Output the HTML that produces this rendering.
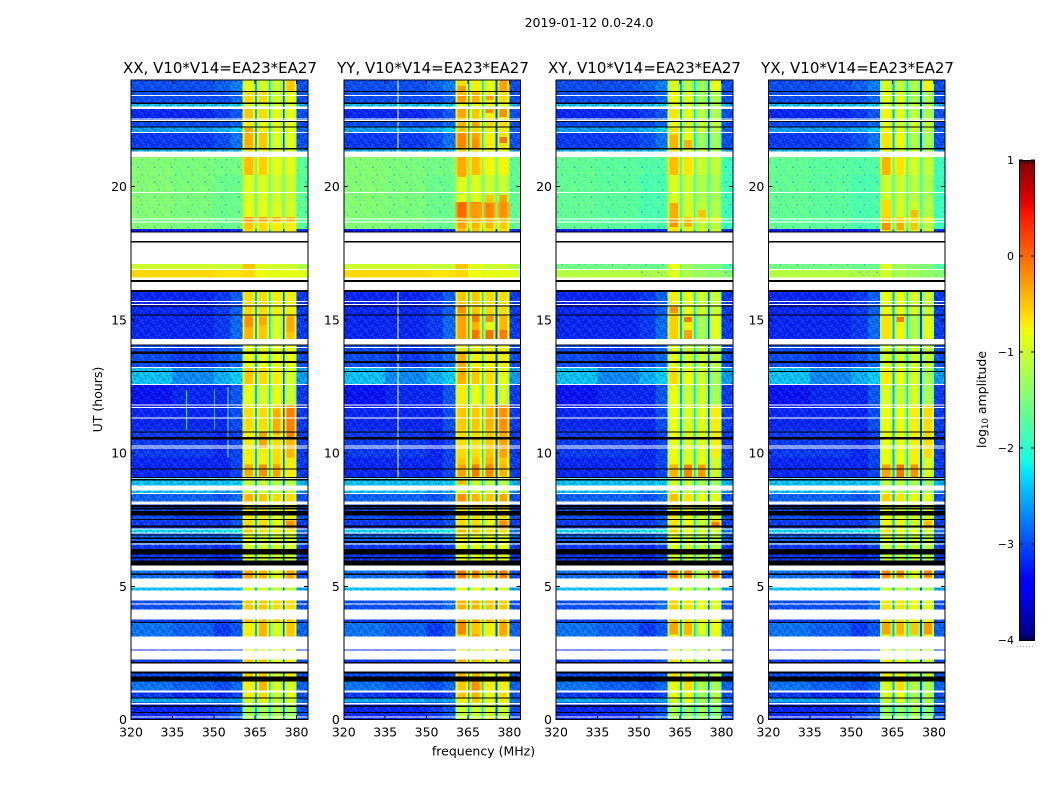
<!DOCTYPE html>
<html>
<head>
<meta charset="utf-8">
<title>2019-01-12 amplitude waterfall</title>
<style>
html,body{margin:0;padding:0;background:#fff;width:1050px;height:800px;overflow:hidden}
svg{display:block}
text{font-family:"DejaVu Sans","Liberation Sans",sans-serif;fill:#000}
</style>
</head>
<body>
<svg id="chart" xmlns="http://www.w3.org/2000/svg" width="1050" height="800" viewBox="0 0 1050 800">
  <defs>
    <pattern id="speckle" patternUnits="userSpaceOnUse" width="11.2" height="9">
      <rect x="0" y="0" width="1.4" height="1.5" fill="#000" opacity=".38"/>
      <rect x="2.8" y="0" width="1.4" height="1.5" fill="#fff" opacity=".14"/>
      <rect x="7" y="0" width="1.4" height="1.5" fill="#000" opacity=".3"/>
      <rect x="1.4" y="1.5" width="1.4" height="1.5" fill="#fff" opacity=".2"/>
      <rect x="5.6" y="1.5" width="1.4" height="1.5" fill="#000" opacity=".4"/>
      <rect x="9.8" y="1.5" width="1.4" height="1.5" fill="#fff" opacity=".12"/>
      <rect x="4.2" y="3" width="1.4" height="1.5" fill="#fff" opacity=".18"/>
      <rect x="8.4" y="3" width="1.4" height="1.5" fill="#000" opacity=".34"/>
      <rect x="0" y="4.5" width="1.4" height="1.5" fill="#fff" opacity=".12"/>
      <rect x="2.8" y="4.5" width="1.4" height="1.5" fill="#000" opacity=".4"/>
      <rect x="7" y="4.5" width="1.4" height="1.5" fill="#fff" opacity=".22"/>
      <rect x="1.4" y="6" width="1.4" height="1.5" fill="#000" opacity=".3"/>
      <rect x="5.6" y="6" width="1.4" height="1.5" fill="#fff" opacity=".14"/>
      <rect x="9.8" y="6" width="1.4" height="1.5" fill="#000" opacity=".36"/>
      <rect x="4.2" y="7.5" width="1.4" height="1.5" fill="#000" opacity=".32"/>
      <rect x="8.4" y="7.5" width="1.4" height="1.5" fill="#fff" opacity=".18"/>
    </pattern>
    <pattern id="speckle-sparse" patternUnits="userSpaceOnUse" width="16.8" height="15">
      <rect x="2.8" y="1.5" width="1.4" height="1.5" fill="#1060e0" opacity=".6"/>
      <rect x="11.2" y="4.5" width="1.4" height="1.5" fill="#20c0e0" opacity=".5"/>
      <rect x="7" y="9" width="1.4" height="1.5" fill="#1060e0" opacity=".45"/>
      <rect x="14" y="12" width="1.4" height="1.5" fill="#20c0e0" opacity=".45"/>
      <rect x="0" y="7.5" width="1.4" height="1.5" fill="#d8f040" opacity=".5"/>
      <rect x="5.6" y="4.5" width="1.4" height="1.5" fill="#30d0a0" opacity=".55"/>
      <rect x="9.8" y="12" width="1.4" height="1.5" fill="#d8f040" opacity=".45"/>
      <rect x="8.4" y="1.5" width="1.4" height="1.5" fill="#30d0a0" opacity=".5"/>
      <rect x="1.4" y="12" width="1.4" height="1.5" fill="#30d0a0" opacity=".5"/>
      <rect x="14" y="3" width="1.4" height="1.5" fill="#d8f040" opacity=".45"/>
      <rect x="12.6" y="9" width="1.4" height="1.5" fill="#30d0a0" opacity=".5"/>
      <rect x="4.2" y="7.5" width="1.4" height="1.5" fill="#d8f040" opacity=".4"/>
      <rect x="5.6" y="13.5" width="1.4" height="1.5" fill="#20c0e0" opacity=".35"/>
    </pattern>
  </defs>
  <text x="589" y="27" text-anchor="middle" font-size="12.5">2019-01-12 0.0-24.0</text>
  <text x="220" y="73" text-anchor="middle" font-size="15">XX, V10*V14=EA23*EA27</text>
  <text x="433" y="73" text-anchor="middle" font-size="15">YY, V10*V14=EA23*EA27</text>
  <text x="644.5" y="73" text-anchor="middle" font-size="15">XY, V10*V14=EA23*EA27</text>
  <text x="857.5" y="73" text-anchor="middle" font-size="15">YX, V10*V14=EA23*EA27</text>
  <text x="0" y="0" transform="translate(102,399.5) rotate(-90)" text-anchor="middle" font-size="12.5">UT (hours)</text>
  <text x="483.5" y="755.5" text-anchor="middle" font-size="12.5">frequency (MHz)</text>
  <text x="0" y="0" transform="translate(986,399.5) rotate(-90)" text-anchor="middle" font-size="12.5">log<tspan font-size="8.5" dy="2">10</tspan><tspan dy="-2"> amplitude</tspan></text>
  <g id="panels"></g>
  <g id="colorbar"></g>
</svg>
<script>
// ---- time blocks, in integration rows (1 row = 0.0375 h) ----
const blockStart=[0,17,21,29,39,56,69,83,97,110,129,141,155,176,186,191,199,218,226,234,241,262,290,315,335,353,381,405,438,442,450,487,491,498,503,518,545,568,572,587,593,601,613,617,629];
const blockEnd=[17,21,29,39,48,60,70,97,100,119,132,149,176,186,191,199,215,226,229,241,262,290,315,335,353,375,405,430,442,450,456,491,498,503,518,545,563,572,587,593,601,613,617,629,640];
// ---- log10 amplitude for the XX baseline, one entry per block ----
const low320=[-3.2,-2.5,-3.1,-2.8,-3.0,-3.1,-3.2,-2.8,-3.1,-3.0,-2.4,-2.8,-3.1,-2.9,-2.3,-3.1,-3.0,-2.9,-2.4,-2.4,-3.2,-3.1,-3.2,-3.3,-2.4,-3.0,-3.2,-3.2,-3.2,-0.6,-1.0,-3.3,-1.45,-1.5,-1.45,-1.45,-1.45,-2.5,-3.1,-2.6,-3.0,-3.2,-2.4,-3.0,-3.0];
const low335=[-3.2,-2.5,-3.2,-2.9,-3.0,-3.1,-3.2,-2.9,-3.1,-3.0,-2.4,-2.8,-3.1,-2.9,-2.3,-3.1,-3.1,-2.9,-2.4,-2.4,-3.2,-3.1,-3.2,-3.2,-2.7,-3.1,-3.2,-3.2,-3.2,-0.6,-1.0,-3.3,-1.5,-1.5,-1.5,-1.5,-1.5,-2.5,-3.1,-2.6,-3.0,-3.2,-2.4,-3.0,-3.0];
const low350=[-3.1,-2.6,-3.2,-3.0,-3.1,-3.1,-3.2,-3.1,-3.1,-3.0,-2.5,-3.1,-3.2,-2.9,-2.2,-3.1,-3.1,-3.0,-2.6,-2.4,-3.2,-3.2,-3.2,-3.2,-2.5,-3.0,-3.1,-3.1,-3.2,-0.65,-1.05,-3.3,-1.6,-1.6,-1.6,-1.6,-1.55,-2.5,-3.0,-2.5,-3.0,-3.1,-2.4,-3.0,-2.9];
const lowEdgeLift=[.15,.05,.15,.15,.15,.15,.15,.15,.15,.15,.05,.15,.15,.15,.05,.15,.15,.15,.05,.05,.15,.15,.2,.25,.15,.15,.25,.2,.15,0,0,.15,0,0,0,0,0,.05,.2,.15,.15,.15,.05,.15,.15];
const sub1=[-1.2,-0.9,-0.7,-0.7,-0.5,-0.5,-0.7,-0.7,-0.4,-0.5,-0.9,-0.3,-0.9,-0.8,-0.5,-0.6,-0.7,-0.4,-0.9,-1.0,-0.7,-0.7,-0.6,-0.8,-0.5,-0.8,-0.4,-0.6,-0.7,-0.6,-0.5,-0.6,-0.5,-0.25,-0.85,-0.9,-0.45,-0.6,-0.4,-0.6,-0.7,-0.5,-0.9,-0.6,-0.8];
const sub2=[-1.2,-0.7,-0.6,-0.4,-0.5,-0.5,-0.7,-0.4,-0.4,-0.5,-0.9,-0.4,-0.9,-0.9,-0.6,-0.6,-0.7,-0.5,-0.9,-1.0,-0.7,-0.7,-0.6,-0.9,-0.6,-0.8,-0.5,-0.6,-0.7,-0.8,-0.9,-0.6,-0.6,-0.3,-0.85,-0.9,-0.55,-0.7,-0.5,-0.7,-0.8,-0.6,-0.9,-0.6,-0.9];
const sub3=[-1.1,-1.0,-1.0,-0.9,-0.9,-0.8,-0.8,-0.9,-0.5,-0.6,-1.0,-0.8,-0.9,-0.9,-0.7,-0.8,-0.8,-0.6,-1.0,-1.1,-0.6,-0.6,-0.5,-0.8,-0.7,-0.8,-0.9,-0.7,-0.7,-0.85,-1.0,-0.7,-0.7,-0.35,-0.9,-1.0,-0.85,-0.8,-0.9,-0.8,-0.8,-0.8,-0.95,-0.9,-1.0];
const sub4=[-1.2,-0.9,-0.8,-0.9,-0.7,-0.7,-0.8,-0.5,-0.5,-0.6,-1.0,-0.3,-0.9,-0.9,-0.7,-0.2,-0.7,-0.6,-1.0,-1.1,-0.7,-0.4,-0.3,-1.0,-0.9,-0.8,-0.5,-0.7,-0.7,-0.85,-1.0,-0.7,-0.7,-0.4,-0.95,-1.0,-0.85,-0.9,-0.85,-0.8,-0.8,-0.8,-0.95,-0.8,-0.5];
const high381=[-3.0,-2.8,-3.0,-2.9,-3.0,-3.0,-3.1,-2.9,-3.0,-3.0,-2.6,-3.0,-3.1,-2.9,-2.8,-3.1,-3.0,-3.0,-2.7,-2.5,-3.1,-3.1,-3.1,-3.1,-2.6,-3.0,-3.1,-3.1,-3.1,-0.9,-1.2,-3.2,-1.7,-1.7,-1.7,-1.7,-1.7,-2.6,-3.0,-2.9,-3.0,-3.0,-2.5,-3.0,-3.0];
const subEdgeDrop=[-.35,-.35,-.35,-.35,-.35,-.35,-.35,-.35,-.35,-.35,-.35,-.35,-.35,-.35,-.35,-.35,-.35,-.35,-.35,-.35,-.35,-.35,-.35,-.35,-.35,-.35,-.35,-.35,-.35,0,0,-.35,-.2,-.2,-.2,-.2,-.2,-.35,-.35,-.35,-.35,-.35,-.35,-.35,-.35];
const notchOverride=[null,null,null,null,null,null,null,null,null,null,null,null,null,null,null,null,null,null,null,null,null,null,null,null,null,null,null,null,null,-1.0,-1.0,null,-1.6,-1.6,-1.6,-1.6,-1.6,null,null,null,null,null,null,null,null];
// ---- per-polarisation differences from XX, one entry per block ----
const subOffsetYY=[.2,.2,.2,.2,.1,.1,.1,.1,.1,.1,.1,0,.1,.1,.1,0,.1,.1,.1,0,.2,.1,.1,.1,.1,.1,.1,.1,.1,0,0,.1,.1,0,.75,0,.1,.1,.2,.1,.2,.1,.1,.2,.2];
const subOffsetXY=[-.1,-.15,-.2,-.2,-.2,-.2,-.15,-.2,-.2,-.15,-.1,-.15,-.1,-.1,-.15,-.15,-.1,-.15,-.1,-.05,-.15,-.2,-.3,-.1,-.2,-.15,-.25,-.2,-.15,-.4,-.4,-.15,-.3,-.25,-.1,-.1,-.1,-.15,-.3,-.15,-.15,-.25,-.1,-.25,-.2];
const subOffsetYX=[-.1,-.15,-.2,-.2,-.2,-.2,-.15,-.2,-.2,-.15,-.1,-.15,-.1,-.1,-.15,-.15,-.1,-.15,-.1,-.05,-.1,-.1,-.2,-.1,-.2,-.15,-.25,-.2,-.15,-.4,-.4,-.15,-.3,-.25,-.1,-.1,-.1,-.15,-.25,-.15,-.15,-.25,-.1,-.25,-.15];
const lowOffsetCross=[0,0,0,0,0,0,0,0,0,0,0,0,0,0,0,0,0,0,0,0,0,0,0,0,0,0,0,0,0,-.55,-.55,0,-.2,-.2,-.2,-.2,-.2,0,0,0,0,0,0,0,0];
const notchLevels=[-2.5,-2.3,-3.0];
// ---- brighter patches inside a sub-band: panel, sub-band, rows, level ----
const patchPanel=[0,0,0,0,0,0,0,0,0,0,0,0, 1,1,1,1,1,1,1,1,1,1,1,1,1,1,1,1,1,1,1,1,1,1,1,1,1,1,1,1,1,1,1,1,1,1,1,1,1,1,1,1,1,1,1, 2,2,2,2,2,2,2,2,2,2,2,2,2,2,2,2,2,2,2,2,2, 3,3,3,3,3,3,3,3,3,3,3,3,3,3,3,3,3,3];
const patchSub=[0,0,1,0,1,3,2,3,1,0,1,2, 0,0,0,0,0,1,1,2,2,3,3,0,2,3,1,0,0,1,2,3,0,1,2,1,2,3,0,0,1,2,3,0,0,1,3,0,1,2,3,0,1,2,3, 0,0,2,0,1,0,1,0,1,1,0,1,2,3,0,1,3,0,1,2,3, 0,0,2,0,1,2,1,0,1,2,0,1,2,3,0,1,2,3];
const patchStart=[575,545,545,393,395,388,285,282,272,243,243,243, 629,619,603,594,572,594,572,607,620,603,577,543,517,517,503,503,492,492,492,492,407,398,398,381,381,381,340,243,243,243,243,235,218,218,218,142,142,142,142,85,85,85,85, 547,503,503,493,493,572,572,407,398,381,242,242,242,193,142,142,142,85,85,85,85, 545,503,503,490,490,490,398,242,242,242,85,85,85,85,142,142,142,142];
const patchEnd=[592,562,560,403,403,403,310,312,287,255,255,255, 634,624,611,598,585,598,581,612,625,612,583,563,525,525,517,517,500,500,500,500,414,404,404,390,390,390,367,255,255,255,255,240,225,225,225,150,150,150,150,97,97,97,97, 563,517,510,500,500,585,580,413,403,390,255,255,255,197,150,150,150,97,97,97,97, 563,520,510,497,497,497,403,255,255,255,97,97,97,97,150,150,150,150];
const patchLevel=[-.35,-.45,-.55,-.2,-.35,-.35,-.35,-.1,-.3,-.35,-.2,-.3, -.25,-.25,-.3,-.4,-.15,-.3,-.2,-.2,-.3,-.2,-.05,-.35,-.5,-.3,-.25,0,-.3,-.4,-.4,-.5,-.2,-.1,-.2,-.05,-.05,-.1,-.35,-.3,-.1,-.15,-.4,-.4,-.2,-.4,-.3,-.05,-.1,-.4,-.05,-.15,-.5,-.7,-.3, -.45,-.35,-.5,-.2,-.4,-.4,-.4,-.2,-.1,-.3,-.4,-.15,-.25,-.05,-.1,-.1,-.1,-.3,-.4,-.8,-.8, -.4,-.6,-.45,-.2,-.35,-.5,-.1,-.3,-.05,-.2,-.3,-.4,-.5,-.25,-.15,-.15,-.8,-.1];
// ---- flagged rows, shared by all four panels ----
const blankStart=[2,15,27.3,60,70,100,115,119,132.3,149.3,175,186,190,215,225.7,229,241,271,273,301,311.7,314.3,334.7,352,371.7,375.7,415,417.6,430,440,450,456,478.3,497.5,500.5,526.7,562.7,587,599,600.5,611,624];
const blankEnd=[3,16.7,29,69,83.3,110,116,129.3,141,154.3,176,187,191,218.3,226.7,234,242,272,274,302,312.7,315.3,335.7,353,373,381,416,418.6,438,442.5,451,477,487.3,498.5,501.5,528,568.3,588,600,601.5,613.3,625];
const zeroStart=[6.7,12.7,21,38.3,46,56.3,96.5,144.7,154.3,161,165,176.7,180.7,184,192,199.7,204.3,210,212.7,239.3,241.7,250,280,287.3,347.7,356.7,366,374.5,404.2,413.5,428,438,477.3,487.3,570.3,592.3,598,616,627.7];
const zeroEnd=[7.7,14,22.3,43.3,48,57.7,97.5,146,159,162.7,170.7,178.7,182,185.3,194,200.7,208.7,212,214.7,240.7,242.7,251,282.7,288.3,348.7,359,368.3,375.5,405.2,414.5,429.7,439.7,479,488.3,571.7,593.3,598.8,617.3,629];
// ---- narrow interference lines ----
const rfiPanel=[0,0,0,1,1];
const rfiFreq=[355,340,350,339.5,339.5];
const rfiStart=[262,290,290,240,568];
const rfiEnd=[333,330,330,430,640];
const rfiLevel=[-1.8,-2.2,-2.4,null,null];
// ---- axes ----
const panelNames=['xx','yy','xy','yx'];
const panelLeft=[131,343.8,556,768.4];
const freqEdges=[320,335,350,356,360.4,361.2,364.2,365,365.6,366.4,369.2,370,370.6,371.4,374.2,375,375.6,376.4,379.2,380,384];
const freqTicks=[320,335,350,365,380];
const hourTicks=[0,5,10,15,20];
const colorbarTicks=[-4,-3,-2,-1,0,1];
const subTilt=[[0,0,0,0],[0,0,0,0],[.1,0,-.05,-.1],[0,0,0,-.1]];

const HOURS_PER_ROW=24/640, PX_PER_HOUR=26.654, Y0=719.6, PX_PER_MHZ=2.76, PANEL_W=176.8;
const VMIN=-4, VMAX=1, CB_TOP=160, CB_BOTTOM=640, CB_LEFT=1019, CB_RIGHT=1035;
const NS='http://www.w3.org/2000/svg';
const rowY=r=>Y0-r*HOURS_PER_ROW*PX_PER_HOUR;
const hourY=h=>Y0-h*PX_PER_HOUR;
const freqX=(p,f)=>panelLeft[p]+(f-320)*PX_PER_MHZ;
const interp=(t,pts)=>{for(let i=1;i<pts.length;i++){if(t<=pts[i][0]){const a=pts[i-1],b=pts[i];return a[1]+(b[1]-a[1])*(t-a[0])/(b[0]-a[0]);}}return pts[pts.length-1][1];};
const jetR=[[0,0],[.35,0],[.66,1],[.89,1],[1,.5]];
const jetG=[[0,0],[.125,0],[.375,1],[.64,1],[.91,0],[1,0]];
const jetB=[[0,.5],[.11,1],[.34,1],[.65,0],[1,0]];
function color(v){
  const t=Math.max(0,Math.min(1,(v-VMIN)/(VMAX-VMIN)));
  return 'rgb('+[jetR,jetG,jetB].map(c=>Math.round(255*interp(t,c))).join(',')+')';
}
function svgEl(tag,attrs,parent){
  const el=document.createElementNS(NS,tag);
  for(const k in attrs)el.setAttribute(k,attrs[k]);
  parent.appendChild(el);
  return el;
}
const panelsG=document.getElementById('panels');
function cellValues(p,b){
  const lowOff=p>=2?lowOffsetCross[b]:0;
  const subOff=[0,subOffsetYY[b],subOffsetXY[b],subOffsetYX[b]][p];
  const tilt=subTilt[p];
  const d=subEdgeDrop[b];
  const s=[sub1[b]+subOff+tilt[0],sub2[b]+subOff+tilt[1],sub3[b]+subOff+tilt[2],sub4[b]+subOff+tilt[3]];
  const notch=i=>notchOverride[b]===null?notchLevels[i]:notchOverride[b]+lowOff;
  const c=low350[b]+lowOff;
  return [low320[b]+lowOff,low335[b]+lowOff,c,c+lowEdgeLift[b],
    s[0]+d,s[0],s[0]+d,notch(0),
    s[1]+d,s[1],s[1]+d,notch(1),
    s[2]+d,s[2],s[2]+d,notch(2),
    s[3]+d,s[3],s[3]+d,high381[b]+lowOff];
}
const textureColumns=[0,1,2,3,19];
panelNames.forEach((name,p)=>{
  const g=svgEl('g',{'shape-rendering':'crispEdges'},panelsG);
  
  
  const left=panelLeft[p], right=left+PANEL_W, top=hourY(24);
  // heatmap cells
  blockStart.forEach((start,b)=>{
    const y1=rowY(blockEnd[b]), y2=rowY(start);
    const vals=cellValues(p,b);
    vals.forEach((v,c)=>{
      const x1=freqX(p,freqEdges[c]), x2=freqX(p,freqEdges[c+1]);
      const cell=svgEl('rect',{x:x1,y:y1,width:Math.min(x2,right)-x1,height:y2-y1,fill:color(v)},g);
      
      
      if(textureColumns.includes(c)&&v<-1.2){
        const sp=svgEl('rect',{x:x1,y:y1,width:Math.min(x2,right)-x1,height:y2-y1,fill:v<-2?'url(#speckle)':'url(#speckle-sparse)'},g);
        
        
      }
    });
  });
  // sub-band patches
  patchPanel.forEach((pp,i)=>{
    if(pp!==p)return;
    const c=5+patchSub[i]*4;
    const x1=freqX(p,freqEdges[c]), x2=freqX(p,freqEdges[c+1]);
    const r=svgEl('rect',{x:x1,y:rowY(patchEnd[i]),width:x2-x1,height:rowY(patchStart[i])-rowY(patchEnd[i]),fill:color(patchLevel[i])},g);
    
    
  });
  // interference lines
  rfiPanel.forEach((rp,i)=>{
    if(rp!==p)return;
    const l=svgEl('rect',{x:freqX(p,rfiFreq[i]),y:rowY(rfiEnd[i]),width:1,height:rowY(rfiStart[i])-rowY(rfiEnd[i]),fill:rfiLevel[i]===null?'#fff':color(rfiLevel[i])},g);
    
    
  });
  // flagged rows
  blankStart.forEach((start,i)=>{
    const r=svgEl('rect',{x:left,y:rowY(blankEnd[i]),width:PANEL_W,height:rowY(start)-rowY(blankEnd[i]),fill:'#fff'},g);
    
    
  });
  zeroStart.forEach((start,i)=>{
    const r=svgEl('rect',{x:left,y:rowY(zeroEnd[i]),width:PANEL_W,height:rowY(start)-rowY(zeroEnd[i]),fill:'#000'},g);
    
    
  });
  // frame
  const frame=svgEl('rect',{x:left,y:top,width:PANEL_W,height:Y0-top,fill:'none',stroke:'#000','stroke-width':1},g);
  
  
  // ticks and labels
  freqTicks.forEach(f=>{
    const x=freqX(p,f);
    const t1=svgEl('line',{x1:x,x2:x,y1:Y0,y2:Y0-4,stroke:'#000'},g);
    
    
    const t2=svgEl('line',{x1:x,x2:x,y1:top,y2:top+4,stroke:'#000'},g);
    
    
    const lb=svgEl('text',{x:x,y:Y0+17,'text-anchor':'middle','font-size':12.5},panelsG);
    lb.textContent=f;
    
    
  });
  hourTicks.forEach(h=>{
    const y=hourY(h);
    const t1=svgEl('line',{x1:left,x2:left+4,y1:y,y2:y,stroke:'#000'},g);
    
    
    const t2=svgEl('line',{x1:right,x2:right-4,y1:y,y2:y,stroke:'#000'},g);
    
    
    const lb=svgEl('text',{x:left-4,y:y+4.5,'text-anchor':'end','font-size':12.5},panelsG);
    lb.textContent=h;
    
    
  });
});
// colorbar
const cbG=document.getElementById('colorbar');
const cbY=v=>CB_BOTTOM-(v-VMIN)/(VMAX-VMIN)*(CB_BOTTOM-CB_TOP);
for(let i=0;i<240;i++){
  const v=VMIN+(i+.5)/240*(VMAX-VMIN);
  const s=svgEl('rect',{x:CB_LEFT,y:cbY(VMIN+(i+1)/240*(VMAX-VMIN)),width:CB_RIGHT-CB_LEFT,height:2.2,fill:color(v),'shape-rendering':'crispEdges'},cbG);
  
  
}
const cbFrame=svgEl('rect',{x:CB_LEFT+.5,y:CB_TOP+.5,width:CB_RIGHT-CB_LEFT-1,height:CB_BOTTOM-CB_TOP,fill:'none',stroke:'#000','stroke-width':1,'shape-rendering':'crispEdges'},cbG);


colorbarTicks.forEach(v=>{
  const y=cbY(v);
  [[CB_LEFT,CB_LEFT+4],[CB_RIGHT,CB_RIGHT-4]].forEach(e=>{
    const t=svgEl('line',{x1:e[0],x2:e[1],y1:y,y2:y,stroke:'#000','shape-rendering':'crispEdges'},cbG);
    
    
  });
  const lb=svgEl('text',{x:CB_LEFT-5,y:y+4,'text-anchor':'end','font-size':11},cbG);
  lb.textContent=String(v).replace('-','\u2212');
  
  
});
for(let i=0;i<5;i++){
  const x=1022+i*2.5;
  [[CB_TOP,CB_TOP+4],[CB_BOTTOM,CB_BOTTOM-4]].forEach(e=>{
    const t=svgEl('line',{x1:x,x2:x,y1:e[0],y2:e[1],stroke:'#000','stroke-width':.8},cbG);
    
    
  });
}
const dots=svgEl('line',{x1:1017,x2:1035,y1:646.5,y2:646.5,stroke:'#999','stroke-dasharray':'1 2'},cbG);


</script>
</body>
</html>
